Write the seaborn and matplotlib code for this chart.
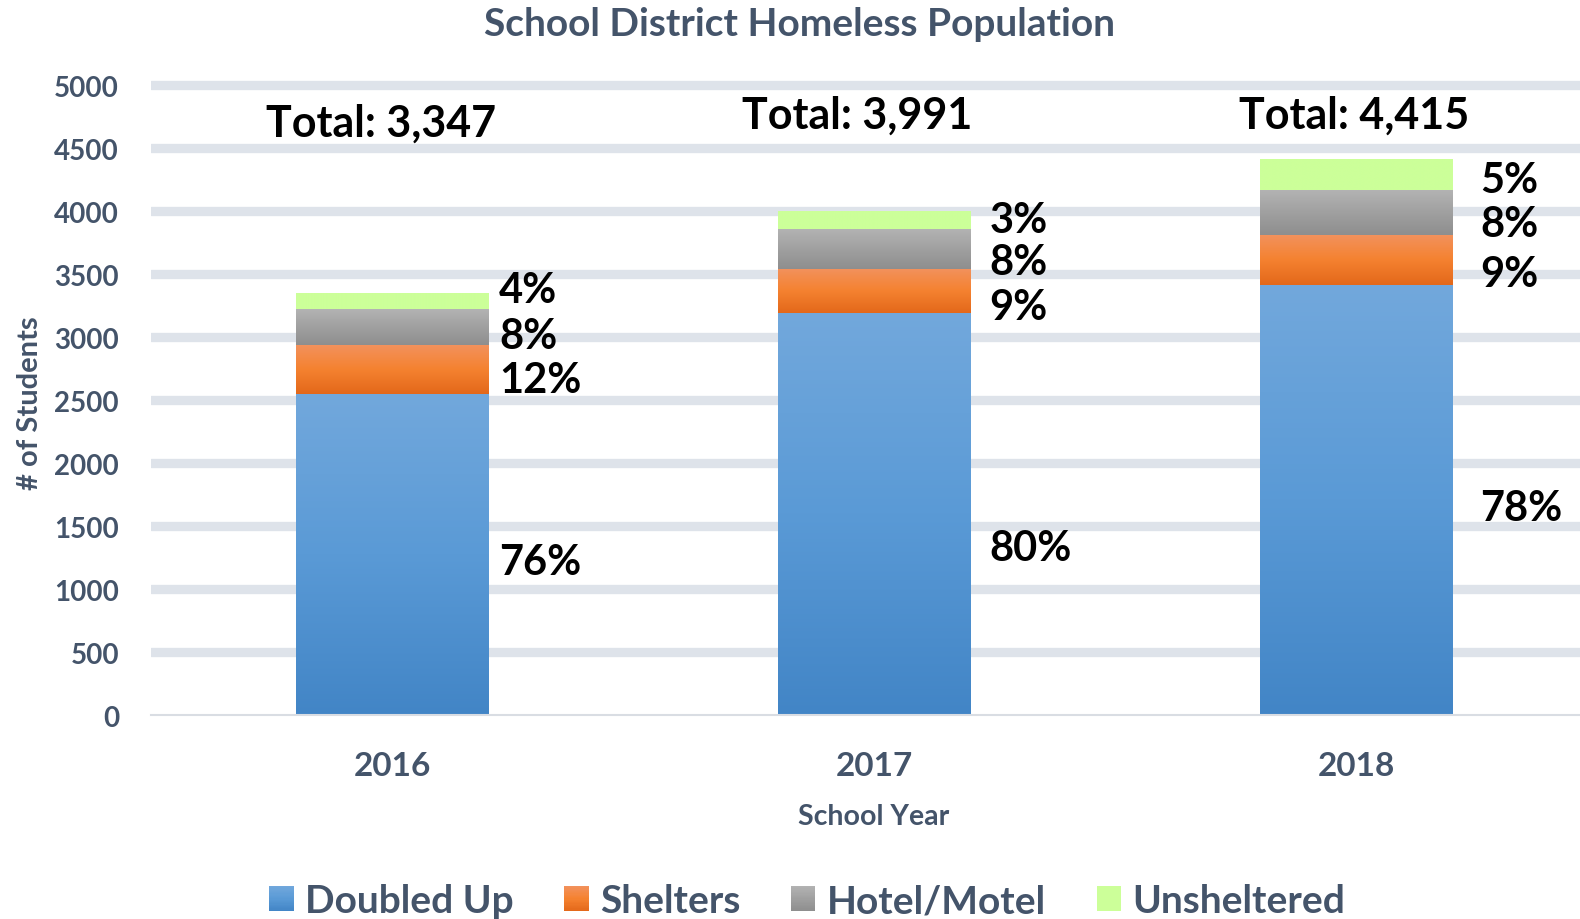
import numpy as np
import pandas as pd
import matplotlib
matplotlib.use("Agg")
import matplotlib.pyplot as plt
import seaborn as sns
from matplotlib.colors import LinearSegmentedColormap
from matplotlib.patches import Patch, Rectangle
from matplotlib.legend_handler import HandlerBase

# ---------------- data ----------------
years = ["2016", "2017", "2018"]
categories = ["Doubled Up", "Shelters", "Hotel/Motel", "Unsheltered"]
doubled_up = [2550, 3195, 3415]
shelters = [390, 350, 400]
hotel_motel = [280, 310, 355]
unsheltered = [127, 136, 245]
totals = [3347, 3991, 4415]
pct_labels = [["76%", "12%", "8%", "4%"],
              ["80%", "9%", "8%", "3%"],
              ["78%", "9%", "8%", "5%"]]

# ---------------- layout (label placement) ----------------
pct_label_x = [0.222, 1.24, 2.258]
pct_label_y = [[1119, 2563, 2913, 3278],
               [1230, 3147, 3500, 3833],
               [1548, 3405, 3802, 4155]]
total_label_x = [-0.022, 0.966, 1.996]
total_label_y = [4603, 4667, 4667]

TXT = "#44546a"
gradients = {
    "Doubled Up": ["#4285c6", "#5a9ad6", "#72a8dc"],
    "Shelters": ["#e3681a", "#f58230", "#f2925e"],
    "Hotel/Motel": ["#8e8e8e", "#a0a0a0", "#b3b3b3"],
    "Unsheltered": ["#ccff99", "#ccff99", "#ccff99"],
}

sns.set_theme(style="white")
plt.rcParams['font.family'] = ['Lato', 'DejaVu Sans']
plt.rcParams['font.weight'] = 'bold'
plt.rcParams['axes.labelweight'] = 'bold'

fig = plt.figure(figsize=(15.8, 9.2), dpi=100)
ax = fig.add_axes([0.0956, 0.2217, 0.9044, 0.690])

series = [doubled_up, shelters, hotel_motel, unsheltered]
bottom = np.zeros(len(years))
layer_patches = []
for cat, vals in zip(categories, series):
    n0 = len(ax.patches)
    sns.barplot(x=years, y=vals, bottom=bottom, color=gradients[cat][1],
                saturation=1, width=0.4, errorbar=None, order=years, ax=ax,
                linewidth=0)
    layer_patches.append(ax.patches[n0:])
    bottom = bottom + np.array(vals)

grad = np.linspace(0, 1, 256).reshape(-1, 1)
for cat, patches in zip(categories, layer_patches):
    cmap = LinearSegmentedColormap.from_list(cat, gradients[cat])
    for p in patches:
        x0, y0, w, h = p.get_x(), p.get_y(), p.get_width(), p.get_height()
        ax.imshow(grad, extent=[x0, x0 + w, y0, y0 + h], origin='lower',
                  cmap=cmap, aspect='auto', interpolation='bilinear',
                  zorder=p.get_zorder() + 0.1)

ax.set_xlim(-0.5, 2.465)
ax.set_ylim(0, 5040)
ax.set_yticks(range(0, 5001, 500))
ax.set_axisbelow(True)
ax.yaxis.grid(True, color="#dee3ea", linewidth=6.7)
ax.xaxis.grid(False)
ax.get_ygridlines()[0].set_visible(False)
for s in ["top", "right", "left"]:
    ax.spines[s].set_visible(False)
ax.spines["bottom"].set_color("#d9dde3")
ax.spines["bottom"].set_linewidth(1.5)

ax.tick_params(axis='y', length=0, pad=23, labelsize=20, labelcolor=TXT)
ax.tick_params(axis='x', length=0, pad=26, labelsize=24, labelcolor=TXT)

ax.set_xlabel("School Year", fontsize=20.5, color=TXT)
ax.xaxis.set_label_coords(0.506, -0.159)
ax.xaxis.label.set_va('center')
ax.set_ylabel("# of Students", fontsize=21, color=TXT)
ax.yaxis.set_label_coords(-0.0847, 0.493)
ax.yaxis.label.set_va('center')

fig.text(0.506, 1 - 25 / 920, "School District Homeless Population",
         ha='center', va='center', fontsize=28, color=TXT, fontweight='bold')

for i, t in enumerate(totals):
    ax.text(total_label_x[i], total_label_y[i], f"Total: {t:,}", ha='center',
            va='baseline', fontsize=31, color='black', fontweight='bold')
    for j, lab in enumerate(pct_labels[i]):
        ax.text(pct_label_x[i], pct_label_y[i][j], lab, ha='left',
                va='baseline', fontsize=30, color='black', fontweight='bold')


class GradientHandler(HandlerBase):
    def __init__(self, colors):
        super().__init__()
        self.cmap = LinearSegmentedColormap.from_list("g", colors)

    def create_artists(self, legend, orig_handle, xdescent, ydescent, width,
                       height, fontsize, trans):
        n = 20
        arts = []
        for k in range(n):
            r = Rectangle((-xdescent, -ydescent + height * k / n), width,
                          height / n * 1.05, facecolor=self.cmap((k + 0.5) / n),
                          edgecolor='none', transform=trans)
            arts.append(r)
        return arts


handles = [Patch(facecolor=gradients[c][1]) for c in categories]
hmap = {h: GradientHandler(gradients[c]) for h, c in zip(handles, categories)}
fig.legend(handles, categories, handler_map=hmap, loc='center',
           bbox_to_anchor=(0.511, 0.02), ncol=4, frameon=False, fontsize=28,
           handlelength=0.62, handleheight=0.62, handletextpad=0.3,
           columnspacing=1.3, labelcolor=TXT)

fig.savefig("out.png", dpi=100)
